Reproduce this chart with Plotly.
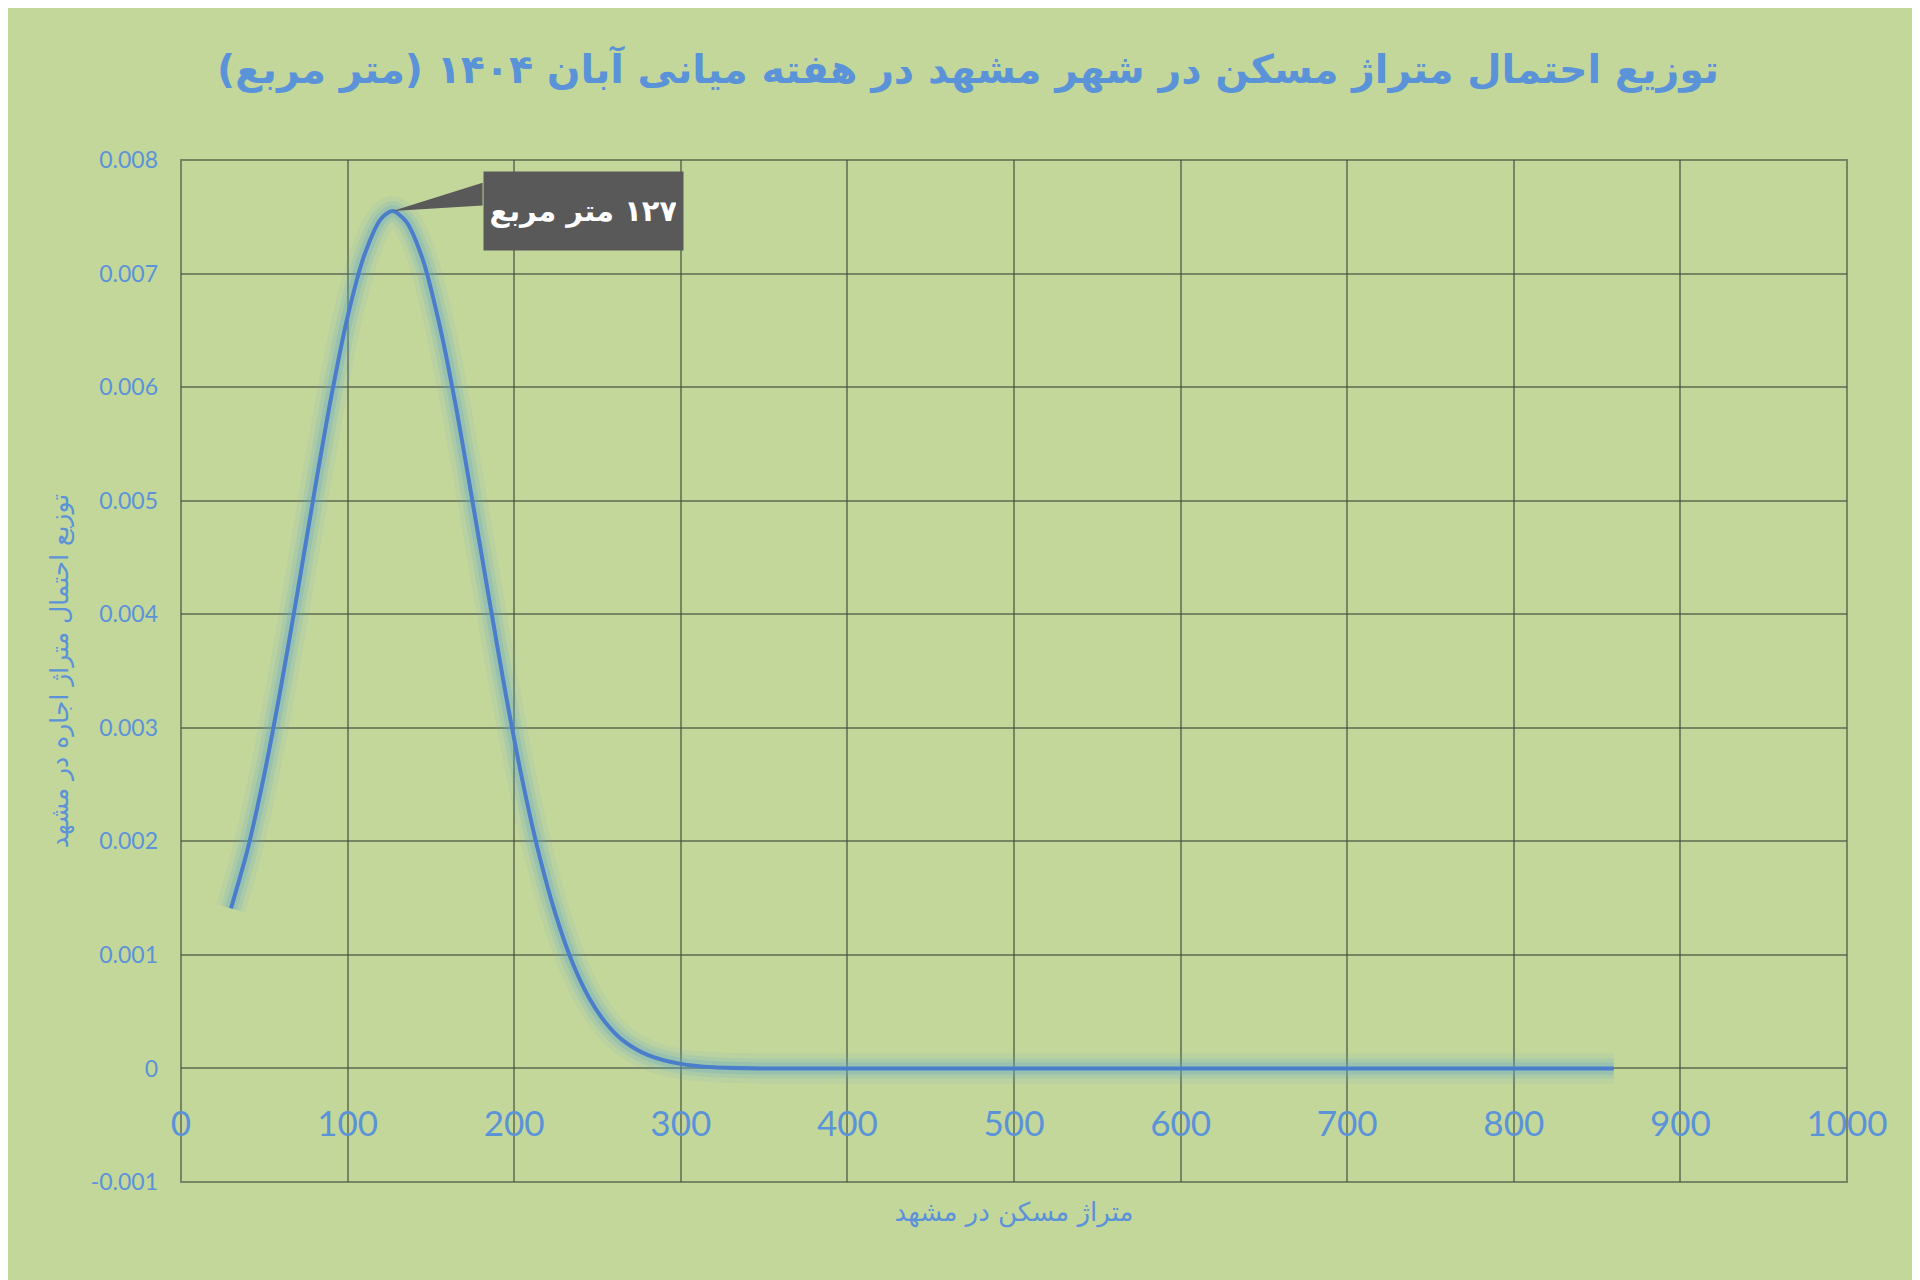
import plotly.graph_objects as go

# curve (normal-shaped density of housing area, Mashhad)
area_m2 = [30, 40, 50, 60, 70, 80, 90, 100, 110, 120, 127, 135, 145, 155, 165, 175,
           185, 195, 205, 215, 225, 235, 245, 255, 265, 280, 300, 320, 350, 400,
           500, 600, 700, 800, 860]
density = [0.00141, 0.00193, 0.00259, 0.00336, 0.00420, 0.00507, 0.00590, 0.00662,
           0.00716, 0.00748, 0.00755, 0.00746, 0.00713, 0.00656, 0.00583, 0.00499,
           0.00413, 0.00329, 0.00253, 0.00188, 0.00135, 0.00093, 0.00062, 0.00040,
           0.00025, 0.00012, 0.00004, 0.00001, 0.0, 0.0,
           0.0, 0.0, 0.0, 0.0, 0.0]

x_ticks = [0, 100, 200, 300, 400, 500, 600, 700, 800, 900, 1000]
y_ticks = [-0.001, 0, 0.001, 0.002, 0.003, 0.004, 0.005, 0.006, 0.007, 0.008]
y_tick_text = ["-0.001", "0", "0.001", "0.002", "0.003", "0.004", "0.005", "0.006", "0.007", "0.008"]

title_text = "توزیع احتمال متراژ مسکن در شهر مشهد در هفته میانی آبان ۱۴۰۴ (متر مربع)"
x_title = "متراژ مسکن در مشهد"
y_title = "توزیع احتمال متراژ اجاره در مشهد"
peak_label = "\u200f۱۲۷ متر مربع"

BG = "#c4d79b"
BLUE_TXT = "#5b93d8"
LINE = "#4a7ecb"
GRID = "rgba(70,78,60,0.6)"
FA_FONT = "DejaVu Sans"

fig = go.Figure()

# soft glow under the line
for w, a in [(30, 0.10), (20, 0.16), (12, 0.24)]:
    fig.add_trace(go.Scatter(
        x=area_m2, y=density, mode="lines",
        line=dict(color=f"rgba(95,165,205,{a})", width=w, shape="spline", smoothing=0.8),
        hoverinfo="skip", showlegend=False,
    ))

fig.add_trace(go.Scatter(
    x=area_m2, y=density, mode="lines",
    line=dict(color=LINE, width=4, shape="spline", smoothing=0.8),
    showlegend=False,
))

# callout for the peak
i_peak = density.index(max(density))
px, py = area_m2[i_peak], density[i_peak]
box_x = 181
fig.add_shape(
    type="path", xref="x", yref="y",
    path=f"M {px},{py} L {box_x},0.0078 L {box_x},0.0076 Z",
    fillcolor="#595959", line=dict(width=0),
)
fig.add_annotation(
    x=box_x, y=py, xref="x", yref="y", xanchor="left", yanchor="middle",
    text=f"<b>{peak_label}</b>", showarrow=False,
    font=dict(family=FA_FONT, size=29, color="white"),
    bgcolor="#595959", width=185, height=64, borderpad=7,
)

# frame round the plot area
fig.add_shape(type="rect", xref="paper", yref="paper", x0=0, x1=1, y0=0, y1=1,
              line=dict(color=GRID, width=2), layer="below")

fig.update_layout(
    width=1920, height=1280,
    margin=dict(l=173, r=81, t=152, b=106),
    paper_bgcolor=BG, plot_bgcolor=BG,
    title=dict(text=f"<b>{title_text}</b>", x=0.5, xanchor="center",
               y=1 - 61 / 1280, yanchor="middle",
               font=dict(family=FA_FONT, size=39.5, color=BLUE_TXT)),
    xaxis=dict(
        range=[0, 1000], tickvals=x_ticks, anchor="free", position=1 / 9,
        showgrid=True, gridcolor=GRID, gridwidth=2, zeroline=False, showline=False,
        ticks="", ticklabelstandoff=32,
        tickfont=dict(family="Lato", size=35, color=BLUE_TXT),
        title=dict(text=x_title, standoff=60,
                   font=dict(family=FA_FONT, size=26, color=BLUE_TXT)),
    ),
    yaxis=dict(
        range=[-0.001, 0.008], tickvals=y_ticks, ticktext=y_tick_text,
        showgrid=True, gridcolor=GRID, gridwidth=2, zeroline=False, showline=False,
        ticks="", ticklabelstandoff=22,
        tickfont=dict(family="Lato", size=23, color=BLUE_TXT),
        title=dict(text=y_title, standoff=14,
                   font=dict(family=FA_FONT, size=25, color=BLUE_TXT)),
    ),
)

fig.write_html("out.html")
